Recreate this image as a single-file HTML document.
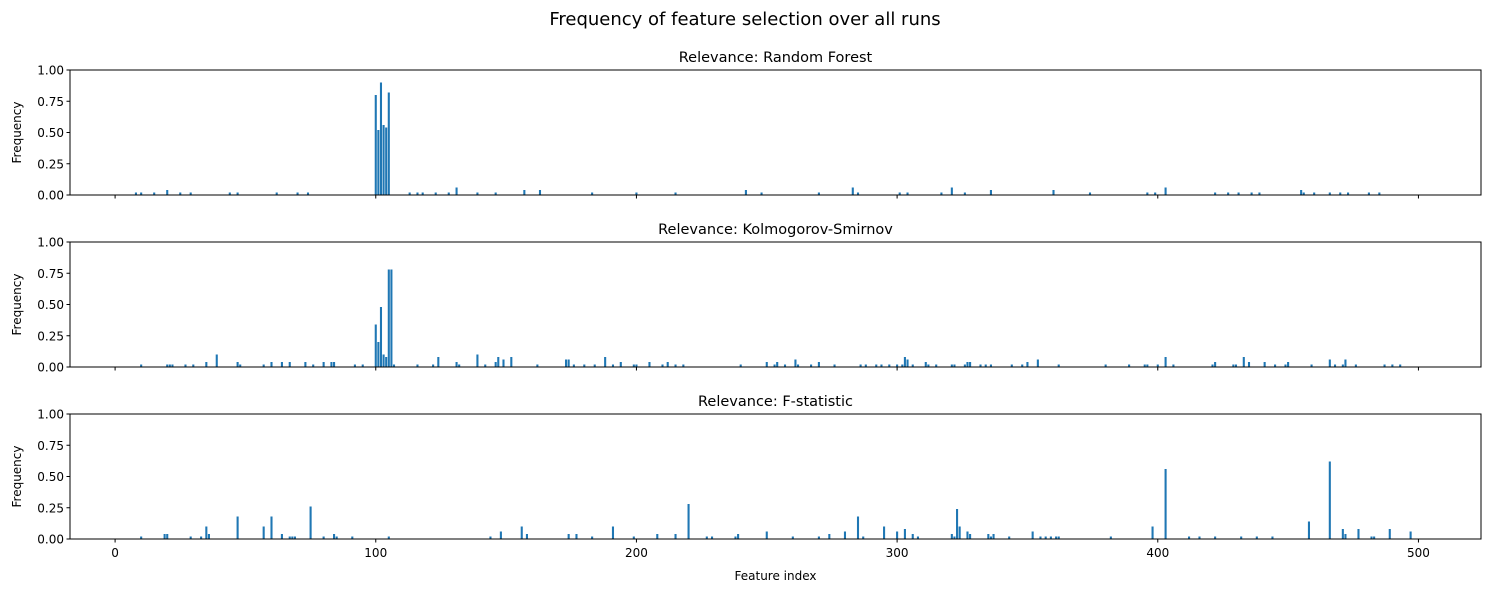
<!DOCTYPE html>
<html><head><meta charset="utf-8"><style>
body{margin:0;background:#fff;font-family:"Liberation Sans","DejaVu Sans",sans-serif}
svg text{font-family:"DejaVu Sans","Liberation Sans",sans-serif}
</style></head><body>
<svg id="c" width="1489" height="592" xmlns="http://www.w3.org/2000/svg">
<text x="745" y="25" text-anchor="middle" font-size="18">Frequency of feature selection over all runs</text>
</svg>
<script>
const xTicks=[0,100,200,300,400,500];
const yTicks=[0,0.25,0.5,0.75,1.0];
const yTickLabels=["0.00","0.25","0.50","0.75","1.00"];
const titles=["Relevance: Random Forest","Relevance: Kolmogorov-Smirnov","Relevance: F-statistic"];
// [feature index, frequency]; single number means frequency 0.02
const rfData=[8,10,15,[20,0.04],25,29,44,47,62,70,74,[100,0.8],[101,0.52],[102,0.9],[103,0.56],[104,0.54],[105,0.82],113,116,118,123,128,[131,0.06],139,146,[157,0.04],[163,0.04],183,200,215,[242,0.04],248,270,[283,0.06],285,301,304,317,[321,0.06],326,[336,0.04],[360,0.04],374,396,399,[403,0.06],422,427,431,436,439,[455,0.04],456,460,466,470,473,481,485];
const ksData=[10,20,21,22,27,30,[35,0.04],[39,0.1],[47,0.04],48,57,[60,0.04],[64,0.04],[67,0.04],[73,0.04],76,[80,0.04],[83,0.04],[84,0.04],92,95,[100,0.34],[101,0.2],[102,0.48],[103,0.1],[104,0.08],[105,0.78],[106,0.78],107,116,122,[124,0.08],[131,0.04],132,[139,0.1],142,[146,0.04],[147,0.08],[149,0.06],[152,0.08],162,[173,0.06],[174,0.06],176,180,184,[188,0.08],191,[194,0.04],199,200,[205,0.04],210,[212,0.04],215,218,240,[250,0.04],253,[254,0.04],257,[261,0.06],262,267,[270,0.04],276,286,288,292,294,297,300,302,[303,0.08],[304,0.06],306,[311,0.04],312,315,321,322,326,[327,0.04],[328,0.04],332,334,336,344,348,[350,0.04],[354,0.06],362,380,389,395,396,400,[403,0.08],406,421,[422,0.04],429,430,[433,0.08],[435,0.04],[441,0.04],445,449,[450,0.04],459,[466,0.06],468,471,[472,0.06],476,487,490,493];
const fData=[10,[19,0.04],[20,0.04],29,33,[35,0.1],[36,0.04],[47,0.18],[57,0.1],[60,0.18],[64,0.04],67,68,69,[75,0.26],80,[84,0.04],85,91,105,144,[148,0.06],[156,0.1],[158,0.04],[174,0.04],[177,0.04],183,[191,0.1],199,[208,0.04],[215,0.04],[220,0.28],227,229,238,[239,0.04],[250,0.06],260,270,[274,0.04],[280,0.06],[285,0.18],287,[295,0.1],[300,0.06],[303,0.08],[306,0.04],308,[321,0.04],322,[323,0.24],[324,0.1],[327,0.06],[328,0.04],[335,0.04],336,[337,0.04],343,[352,0.06],355,357,359,361,362,382,[398,0.1],[403,0.56],412,416,422,432,438,444,[458,0.14],[466,0.62],[471,0.08],[472,0.04],[477,0.08],482,483,[489,0.08],[497,0.06]];
const allData=[rfData,ksData,fData];
const NS="http://www.w3.org/2000/svg";
const svg=document.getElementById('c');
const L=70,R=1481,X0=-17.3,X1=524;
const tops=[70,242,414],H=125;
function xs(v){return L+(v-X0)/(X1-X0)*(R-L);}
function mk(t,a,p){const e=document.createElementNS(NS,t);for(const k in a)e.setAttribute(k,a[k]);(p||svg).appendChild(e);return e;}
allData.forEach((data,pi)=>{
  const T=tops[pi],B=T+H;
  const ys=v=>B-v*H;
  const g=mk('g',{});
  
  
  const tt=mk('text',{x:(L+R)/2,y:T-8,'text-anchor':'middle','font-size':'14.5'},g);tt.textContent=titles[pi];
  
  
  data.forEach(d=>{
    const i=Array.isArray(d)?d[0]:d, v=Array.isArray(d)?d[1]:0.02;
    const w=xs(0.8)-xs(0);
    const r=mk('rect',{x:xs(i-0.4),y:ys(v),width:w,height:B-ys(v),fill:'#1f77b4'},g);
    
    
  });
  yTicks.forEach((t,k)=>{
    mk('line',{x1:L-3.5,x2:L,y1:ys(t),y2:ys(t),stroke:'#000','stroke-width':1},g);
    const lb=mk('text',{x:L-6,y:ys(t)+4.5,'text-anchor':'end','font-size':'12'},g);lb.textContent=yTickLabels[k];
    
    
  });
  xTicks.forEach(t=>{
    mk('line',{x1:xs(t),x2:xs(t),y1:B,y2:B+3.5,stroke:'#000','stroke-width':1},g);
    if(pi===2){const lb=mk('text',{x:xs(t),y:B+18,'text-anchor':'middle','font-size':'12'},g);lb.textContent=t;
      
      }
  });
  const yl=mk('text',{x:0,y:0,'text-anchor':'middle','font-size':'12',transform:`translate(21,${T+H/2}) rotate(-90)`},g);yl.textContent='Frequency';
  
  
  const fr=mk('rect',{x:L,y:T,width:R-L,height:H,fill:'none',stroke:'#000','stroke-width':1},g);
  
  
});
const xl=mk('text',{x:(L+R)/2,y:580,'text-anchor':'middle','font-size':'12'});xl.textContent='Feature index';


</script>
</body></html>
